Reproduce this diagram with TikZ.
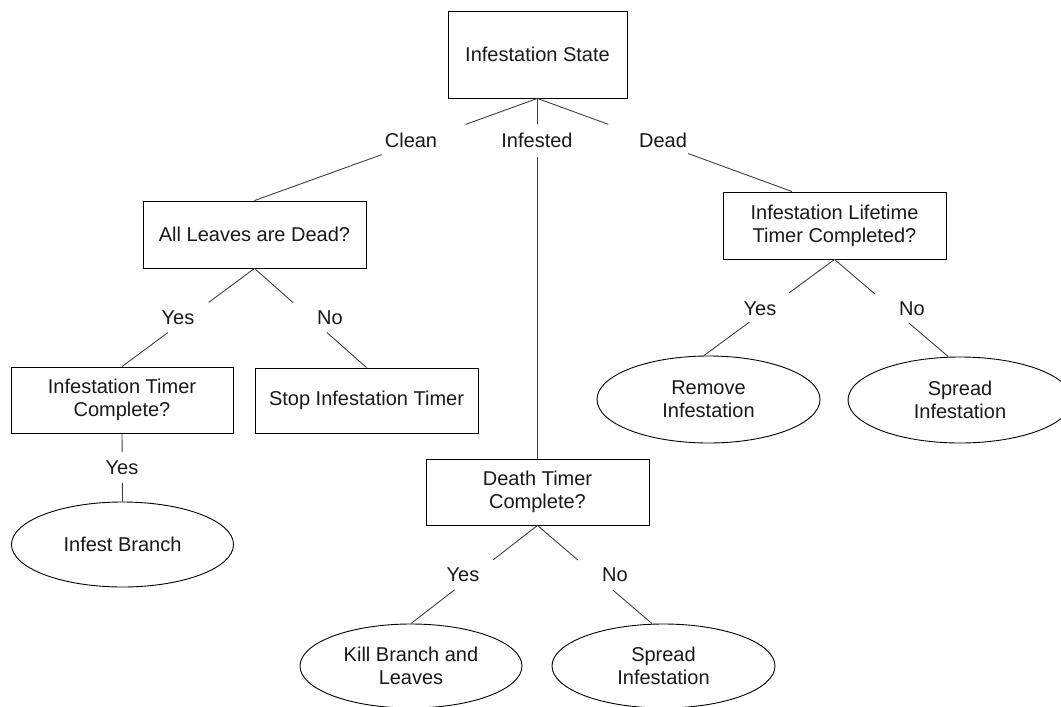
\documentclass[tikz,border=0pt]{standalone}
\usepackage{fontspec}
\setmainfont{Liberation Sans}
\usetikzlibrary{shapes.geometric,calc}
\begin{document}
\begin{tikzpicture}[x=1pt,y=-1pt,
  every node/.style={font=\fontsize{20}{23}\selectfont, text=black!90},
  box/.style={draw=black, line width=0.9pt, rectangle, inner sep=0pt, align=center,
              minimum width=223pt, minimum height=66pt},
  oval/.style={draw=black, line width=0.9pt, ellipse, inner sep=0pt, align=center,
               minimum width=222pt, minimum height=85pt},
  lbl/.style={inner sep=0pt},
  link/.style={draw=black!75, line width=0.9pt}]
\useasboundingbox[fill=white] (0,0) rectangle (1061,707);

% decision boxes
\node[box, minimum width=179pt, minimum height=87pt] (state) at (537.5,54.5) {Infestation State};
\node[box, minimum height=67pt] (leaves) at (254.5,234.5) {All Leaves are Dead?};
\node[box, minimum height=67pt] (life) at (834.5,225.5) {Infestation Lifetime\\Timer Completed?};
\node[box, minimum width=222pt] (timer) at (122,400) {Infestation Timer\\Complete?};
\node[box, minimum height=65pt] (stop) at (366.5,400.5) {Stop Infestation Timer};
\node[box] (death) at (537.5,492) {Death Timer\\Complete?};

% outcomes
\node[oval] (branch) at (122.5,544.5) {Infest Branch};
\node[oval, minimum width=223pt, minimum height=87pt] (remove) at (708.5,399.5) {Remove\\Infestation};
\node[oval, minimum width=224pt, minimum height=86pt] (spreadA) at (960,400) {Spread\\Infestation};
\node[oval, minimum height=84pt] (kill) at (411,666) {Kill Branch and\\Leaves};
\node[oval, minimum width=223pt, minimum height=84pt] (spreadB) at (663.5,666) {Spread\\Infestation};

% branch labels
\node[lbl] (clean) at (411,140) {Clean};
\node[lbl] (infested) at (537,140) {Infested};
\node[lbl] (dead) at (663,140) {Dead};
\node[lbl] (yesL) at (178,318) {Yes};
\node[lbl] (noL) at (330,318) {No};
\node[lbl] (yesT) at (122,468) {Yes};
\node[lbl] (yesR) at (760,309) {Yes};
\node[lbl] (noR) at (912,309) {No};
\node[lbl] (yesD) at (463,575) {Yes};
\node[lbl] (noD) at (615,575) {No};

% connector end points on the children
\coordinate (lifeIn) at ($(life.north)+(-42.5,0)$);
\coordinate (spreadAIn) at (spreadA.105);
\coordinate (spreadBIn) at (spreadB.105);
\coordinate (removeIn) at (remove.96);

% state -> Clean -> leaves
\draw[link] (state.south) -- ($(state.south)!0.254!(leaves.north)$);
\draw[link] ($(state.south)!0.55!(leaves.north)$) -- (leaves.north);
% state -> Infested -> death
\draw[link] (state.south) -- ($(state.south)!0.072!(death.north)$);
\draw[link] ($(state.south)!0.163!(death.north)$) -- (death.north);
% state -> Dead -> life
\draw[link] (state.south) -- ($(state.south)!0.278!(lifeIn)$);
\draw[link] ($(state.south)!0.592!(lifeIn)$) -- (lifeIn);

% leaves -> Yes -> timer, leaves -> No -> stop
\draw[link] (leaves.south) -- ($(leaves.south)!0.346!(timer.north)$);
\draw[link] ($(leaves.south)!0.654!(timer.north)$) -- (timer.north);
\draw[link] (leaves.south) -- ($(leaves.south)!0.345!(stop.north)$);
\draw[link] ($(leaves.south)!0.646!(stop.north)$) -- (stop.north);

% timer -> Yes -> branch
\draw[link] (timer.south) -- ($(timer.south)!0.275!(branch.north)$);
\draw[link] ($(timer.south)!0.725!(branch.north)$) -- (branch.north);

% life -> Yes -> remove, life -> No -> spreadA
\draw[link] (life.south) -- ($(life.south)!0.348!(removeIn)$);
\draw[link] ($(life.south)!0.652!(removeIn)$) -- (removeIn);
\draw[link] (life.south) -- ($(life.south)!0.357!(spreadAIn)$);
\draw[link] ($(life.south)!0.652!(spreadAIn)$) -- (spreadAIn);

% death -> Yes -> kill, death -> No -> spreadB
\draw[link] (death.south) -- ($(death.south)!0.351!(kill.north)$);
\draw[link] ($(death.south)!0.656!(kill.north)$) -- (kill.north);
\draw[link] (death.south) -- ($(death.south)!0.351!(spreadBIn)$);
\draw[link] ($(death.south)!0.658!(spreadBIn)$) -- (spreadBIn);
\end{tikzpicture}
\end{document}
